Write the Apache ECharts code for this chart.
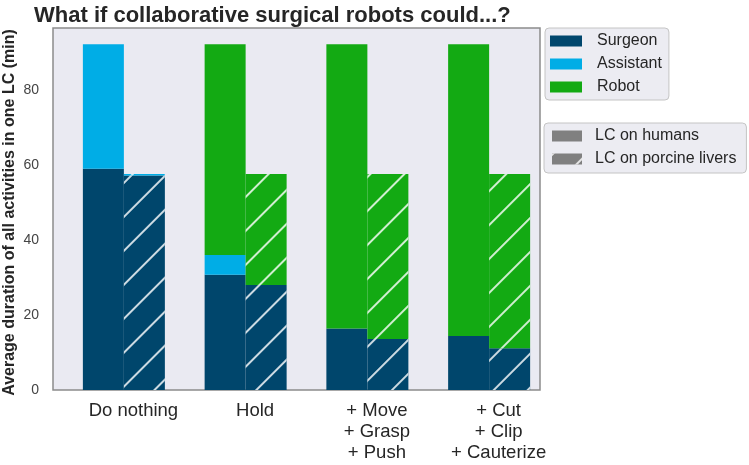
<!DOCTYPE html>
<html>
<head>
<meta charset="utf-8">
<script src="https://cdn.jsdelivr.net/npm/echarts@6/dist/echarts.min.js"></script>
<style>
  html, body { margin: 0; padding: 0; background: #ffffff; }
  #chart { width: 749px; height: 465px; }
</style>
</head>
<body>
<div id="chart"></div>
<script>
// ---- data ----
var categories = ['Do nothing', 'Hold', '+ Move\n+ Grasp\n+ Push', '+ Cut\n+ Clip\n+ Cauterize'];
// LC on humans
var humanSurgeon   = [59.0, 30.7, 16.4, 14.4];
var humanAssistant = [33.2, 5.3, 0, 0];
var humanRobot     = [0, 56.2, 75.8, 77.8];
// LC on porcine livers
var porcineSurgeon   = [57.2, 28.0, 13.6, 11.1];
var porcineAssistant = [0.4, 0, 0, 0];
var porcineRobot     = [0, 29.6, 44.0, 46.5];
var yTicks = [0, 20, 40, 60, 80];

// ---- style ----
var FONT = "'Liberation Sans', Arial, sans-serif";
var C_SURGEON = '#00466c';
var C_ASSIST = '#00ade6';
var C_ROBOT = '#13aa13';
var C_GREY = '#808080';
var BAR_W = 41;

var hatch = {
  symbol: 'rect',
  symbolSize: 1,
  color: 'rgba(255,255,255,0.8)',
  dashArrayX: [1, 0],
  dashArrayY: [1.3, 22],
  rotation: -Math.PI / 4
};

function barSeries(name, stack, data, color, decal) {
  var s = {
    name: name,
    type: 'bar',
    stack: stack,
    data: data,
    barWidth: BAR_W,
    barGap: '0%',
    itemStyle: { color: color },
    emphasis: { disabled: true }
  };
  if (decal) s.itemStyle.decal = decal;
  return s;
}

var chart = echarts.init(document.getElementById('chart'), null, { renderer: 'canvas' });

var option = {
  animation: false,
  textStyle: { fontFamily: FONT },
  title: {
    text: 'What if collaborative surgical robots could...?',
    left: 29,
    top: 0,
    textStyle: { fontFamily: FONT, fontSize: 22, fontWeight: 'bold', color: '#262626' }
  },
  grid: {
    left: 53, top: 28, right: 209, bottom: 75,
    outerBoundsMode: 'none',
    containLabel: false,
    show: true,
    backgroundColor: '#eaeaf2',
    borderColor: '#8c8c8c',
    borderWidth: 1.5
  },
  legend: [
    {
      data: ['Surgeon', 'Assistant', 'Robot'],
      orient: 'vertical',
      left: 545, top: 28,
      padding: [5, 7, 5, 5],
      itemWidth: 32, itemHeight: 11, itemGap: 7,
      backgroundColor: '#ececf2',
      borderColor: '#c4c4c4', borderWidth: 1, borderRadius: 4,
      icon: 'rect',
      selectedMode: false,
      textStyle: { fontFamily: FONT, fontSize: 16, color: '#262626', lineHeight: 16, padding: [0, 0, 0, 10] }
    },
    {
      data: ['LC on humans', 'LC on porcine livers'],
      orient: 'vertical',
      left: 544, top: 123,
      padding: [5, 10, 6, 8],
      itemWidth: 30, itemHeight: 11, itemGap: 7,
      backgroundColor: '#ececf2',
      borderColor: '#c4c4c4', borderWidth: 1, borderRadius: 4,
      icon: 'rect',
      selectedMode: false,
      textStyle: { fontFamily: FONT, fontSize: 16, color: '#262626', lineHeight: 16, padding: [0, 0, 0, 8] }
    }
  ],
  xAxis: {
    type: 'category',
    data: categories,
    axisLine: { show: false },
    axisTick: { show: false },
    axisLabel: {
      fontFamily: FONT, fontSize: 18.5, color: '#262626',
      lineHeight: 21, margin: 10, align: 'center',
      padding: [0, 0, 0, 39],
      interval: 0
    }
  },
  yAxis: {
    type: 'value',
    min: 0, max: 96.5, interval: 20,
    name: 'Average duration of all activities in one LC (min)',
    nameLocation: 'middle',
    nameGap: 35,
    nameMoveOverlap: false,
    nameTextStyle: { fontFamily: FONT, fontSize: 16, fontWeight: 'bold', color: '#262626', padding: [0, 7, 0, 0] },
    axisLine: { show: false },
    axisTick: { show: false },
    splitLine: { show: false },
    axisLabel: {
      fontFamily: FONT, fontSize: 14, color: '#444444', margin: 14,
      showMaxLabel: false,
      formatter: function (v) { return yTicks.indexOf(v) >= 0 ? String(v) : ''; }
    }
  },
  series: [
    // spacer column so that the bar pairs sit where they do in the reference
    { name: '', type: 'bar', data: [], barWidth: 20, barGap: '0%', silent: true },
    barSeries('Surgeon', 'h', humanSurgeon, C_SURGEON),
    barSeries('Assistant', 'h', humanAssistant, C_ASSIST),
    barSeries('Robot', 'h', humanRobot, C_ROBOT),
    barSeries('LC on humans', 'h', [], C_GREY),
    barSeries('Surgeon', 'p', porcineSurgeon, C_SURGEON, hatch),
    barSeries('Assistant', 'p', porcineAssistant, C_ASSIST, hatch),
    barSeries('Robot', 'p', porcineRobot, C_ROBOT, hatch),
    barSeries('LC on porcine livers', 'p', [], C_GREY, hatch)
  ]
};
chart.setOption(option);
</script>
</body>
</html>
